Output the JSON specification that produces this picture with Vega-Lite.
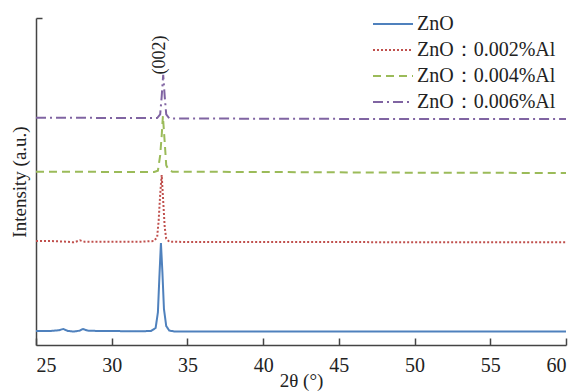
{
  "$schema": "https://vega.github.io/schema/vega-lite/v6.json",
  "width": 530,
  "height": 327,
  "autosize": {"type": "none"},
  "padding": {"left": 36, "top": 18, "right": 13, "bottom": 47},
  "background": "white",
  "config": {
    "view": {"stroke": null},
    "font": "Times New Roman, Liberation Serif, serif",
    "axis": {"grid": false, "domainColor": "#444", "domainWidth": 1.5, "tickColor": "#444", "tickWidth": 1.5, "labelFont": "Times New Roman, Liberation Serif, serif", "titleFont": "Times New Roman, Liberation Serif, serif", "labelColor": "#222", "titleColor": "#222", "labelFontSize": 20, "titleFontSize": 19, "titleFontWeight": "normal"},
    "legend": {"orient": "none", "legendX": 346, "legendY": -5, "symbolType": "M-2,0H2", "symbolSize": 400, "symbolStrokeWidth": 2, "labelFont": "Times New Roman, Liberation Serif, serif", "labelFontSize": 20, "labelColor": "#222", "labelOffset": 13, "rowPadding": 5}
  },
  "datasets": {
    "xrd": [
      {"s": "ZnO", "x": 25, "y": 4.3}, {"s": "ZnO", "x": 26, "y": 4.3}, {"s": "ZnO", "x": 26.5, "y": 4.5}, {"s": "ZnO", "x": 26.8, "y": 4.9}, {"s": "ZnO", "x": 27.1, "y": 4.3}, {"s": "ZnO", "x": 27.5, "y": 4.1}, {"s": "ZnO", "x": 27.9, "y": 4.4}, {"s": "ZnO", "x": 28.1, "y": 4.9}, {"s": "ZnO", "x": 28.4, "y": 4.4}, {"s": "ZnO", "x": 29, "y": 4.3}, {"s": "ZnO", "x": 30, "y": 4.3}, {"s": "ZnO", "x": 31, "y": 4.2}, {"s": "ZnO", "x": 32, "y": 4.2}, {"s": "ZnO", "x": 32.6, "y": 4.3}, {"s": "ZnO", "x": 32.9, "y": 5.2}, {"s": "ZnO", "x": 33.05, "y": 10}, {"s": "ZnO", "x": 33.15, "y": 21}, {"s": "ZnO", "x": 33.25, "y": 31.2}, {"s": "ZnO", "x": 33.35, "y": 22}, {"s": "ZnO", "x": 33.45, "y": 11}, {"s": "ZnO", "x": 33.6, "y": 5.8}, {"s": "ZnO", "x": 33.8, "y": 4.4}, {"s": "ZnO", "x": 34.2, "y": 4.1}, {"s": "ZnO", "x": 35, "y": 4.1}, {"s": "ZnO", "x": 40, "y": 4.1}, {"s": "ZnO", "x": 45, "y": 4.1}, {"s": "ZnO", "x": 50, "y": 4.1}, {"s": "ZnO", "x": 55, "y": 4.1}, {"s": "ZnO", "x": 60, "y": 4.1},

      {"s": "ZnO：0.002%Al", "x": 25, "y": 31.8}, {"s": "ZnO：0.002%Al", "x": 26, "y": 31.8}, {"s": "ZnO：0.002%Al", "x": 27, "y": 31.6}, {"s": "ZnO：0.002%Al", "x": 27.5, "y": 31.4}, {"s": "ZnO：0.002%Al", "x": 27.9, "y": 32.0}, {"s": "ZnO：0.002%Al", "x": 28.2, "y": 31.6}, {"s": "ZnO：0.002%Al", "x": 29, "y": 31.6}, {"s": "ZnO：0.002%Al", "x": 30, "y": 31.6}, {"s": "ZnO：0.002%Al", "x": 32, "y": 31.6}, {"s": "ZnO：0.002%Al", "x": 32.8, "y": 31.8}, {"s": "ZnO：0.002%Al", "x": 33.0, "y": 33}, {"s": "ZnO：0.002%Al", "x": 33.1, "y": 38}, {"s": "ZnO：0.002%Al", "x": 33.2, "y": 46}, {"s": "ZnO：0.002%Al", "x": 33.3, "y": 52}, {"s": "ZnO：0.002%Al", "x": 33.4, "y": 44}, {"s": "ZnO：0.002%Al", "x": 33.5, "y": 36}, {"s": "ZnO：0.002%Al", "x": 33.6, "y": 32.5}, {"s": "ZnO：0.002%Al", "x": 33.8, "y": 31.6}, {"s": "ZnO：0.002%Al", "x": 35, "y": 31.5}, {"s": "ZnO：0.002%Al", "x": 40, "y": 31.5}, {"s": "ZnO：0.002%Al", "x": 45, "y": 31.5}, {"s": "ZnO：0.002%Al", "x": 50, "y": 31.4}, {"s": "ZnO：0.002%Al", "x": 55, "y": 31.4}, {"s": "ZnO：0.002%Al", "x": 60, "y": 31.4},

      {"s": "ZnO：0.004%Al", "x": 25, "y": 53.0}, {"s": "ZnO：0.004%Al", "x": 28, "y": 53.0}, {"s": "ZnO：0.004%Al", "x": 30, "y": 52.9}, {"s": "ZnO：0.004%Al", "x": 32.8, "y": 52.9}, {"s": "ZnO：0.004%Al", "x": 33.05, "y": 53.3}, {"s": "ZnO：0.004%Al", "x": 33.2, "y": 58}, {"s": "ZnO：0.004%Al", "x": 33.3, "y": 64}, {"s": "ZnO：0.004%Al", "x": 33.38, "y": 70}, {"s": "ZnO：0.004%Al", "x": 33.5, "y": 62}, {"s": "ZnO：0.004%Al", "x": 33.6, "y": 55}, {"s": "ZnO：0.004%Al", "x": 33.75, "y": 53.6}, {"s": "ZnO：0.004%Al", "x": 34, "y": 53.0}, {"s": "ZnO：0.004%Al", "x": 40, "y": 52.9}, {"s": "ZnO：0.004%Al", "x": 50, "y": 52.7}, {"s": "ZnO：0.004%Al", "x": 60, "y": 52.6},

      {"s": "ZnO：0.006%Al", "x": 25, "y": 69.5}, {"s": "ZnO：0.006%Al", "x": 28, "y": 69.5}, {"s": "ZnO：0.006%Al", "x": 30, "y": 69.4}, {"s": "ZnO：0.006%Al", "x": 33.0, "y": 69.4}, {"s": "ZnO：0.006%Al", "x": 33.2, "y": 70.5}, {"s": "ZnO：0.006%Al", "x": 33.3, "y": 76}, {"s": "ZnO：0.006%Al", "x": 33.4, "y": 82.6}, {"s": "ZnO：0.006%Al", "x": 33.5, "y": 76}, {"s": "ZnO：0.006%Al", "x": 33.6, "y": 70.5}, {"s": "ZnO：0.006%Al", "x": 33.8, "y": 69.3}, {"s": "ZnO：0.006%Al", "x": 40, "y": 69.2}, {"s": "ZnO：0.006%Al", "x": 50, "y": 69.1}, {"s": "ZnO：0.006%Al", "x": 60, "y": 69.1}
    ],
    "labels": [{"x": 33.2, "y": 88.7, "t": "(002)"}]
  },
  "layer": [
    {
      "data": {"name": "xrd"},
      "mark": {"type": "line", "strokeWidth": 2, "clip": true},
      "encoding": {
        "x": {"field": "x", "type": "quantitative", "scale": {"domain": [25, 60], "nice": false, "zero": false},
              "axis": {"values": [25, 30, 35, 40, 45, 50, 55, 60], "tickSize": -7, "labelPadding": 17, "title": "2θ (°)", "titlePadding": -4}},
        "y": {"field": "y", "type": "quantitative", "scale": {"domain": [0, 100], "nice": false},
              "axis": {"values": [100], "tickSize": -6, "labels": false, "title": "Intensity (a.u.)", "titlePadding": 6}},
        "detail": {"field": "s"},
        "color": {"field": "s", "type": "nominal", "title": null,
                  "scale": {"domain": ["ZnO", "ZnO：0.002%Al", "ZnO：0.004%Al", "ZnO：0.006%Al"], "range": ["#4f81bd", "#c0504d", "#9bbb59", "#8064a2"]}},
        "strokeDash": {"field": "s", "type": "nominal", "title": null,
                  "scale": {"domain": ["ZnO", "ZnO：0.002%Al", "ZnO：0.004%Al", "ZnO：0.006%Al"], "range": [[1, 0], [2, 2], [8, 5], [10, 4, 2, 4]]}}
      }
    },
    {
      "data": {"name": "labels"},
      "mark": {"type": "text", "angle": 270, "fontSize": 18, "font": "Times New Roman, Liberation Serif, serif", "color": "#222"},
      "encoding": {
        "x": {"field": "x", "type": "quantitative"},
        "y": {"field": "y", "type": "quantitative"},
        "text": {"field": "t"}
      }
    }
  ]
}
